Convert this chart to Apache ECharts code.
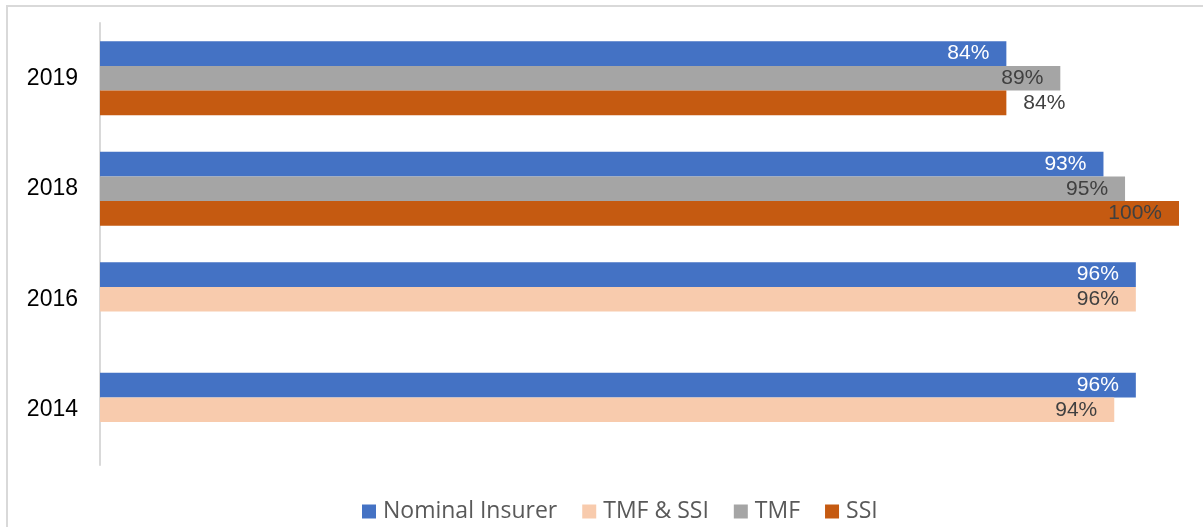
<!DOCTYPE html>
<html>
<head>
<meta charset="utf-8">
<script src="https://cdn.jsdelivr.net/npm/echarts@6/dist/echarts.min.js"></script>
<style>
  html, body { margin: 0; padding: 0; background: #ffffff; }
  #chart { width: 1203px; height: 527px; }
</style>
</head>
<body>
<div id="chart"></div>
<script>
// Survey years, top to bottom
const years = ['2019', '2018', '2016', '2014'];

// Percentages per scheme, aligned with `years` (null = not surveyed)
const nominalInsurer = [84, 93, 96, 96];
const tmfAndSsi      = [null, null, 96, 94];
const tmf            = [89, 95, null, null];
const ssi            = [84, 100, null, null];

const seriesNames  = ['Nominal Insurer', 'TMF & SSI', 'TMF', 'SSI'];
const seriesColors = ['#4472C4', '#F8CBAD', '#A5A5A5', '#C55A11'];

// SSI labels that sit outside the bar end (short bars)
const ssiOutside = ['2019'];

const labelFont = 'Liberation Sans, Arial, sans-serif';

function insideLabel(color) {
  return {
    show: true,
    position: 'insideRight',
    distance: 17,
    color: color,
    fontFamily: labelFont,
    fontSize: 21,
    formatter: p => p.value + '%'
  };
}

const ssiData = ssi.map((v, i) =>
  ssiOutside.includes(years[i])
    ? { value: v, label: { position: 'right', distance: 17 } }
    : v
);

const chart = echarts.init(document.getElementById('chart'), null, { renderer: 'canvas' });

chart.setOption({
  animation: false,
  backgroundColor: '#ffffff',
  graphic: [{
    type: 'rect',
    shape: { x: 7, y: 6, width: 1220, height: 560 },
    style: { fill: 'none', stroke: '#d9d9d9', lineWidth: 2 },
    silent: true,
    z: -10
  }],
  grid: { left: 100, right: 24, top: 23, bottom: 62, containLabel: false },
  xAxis: {
    type: 'value',
    min: 0,
    max: 100,
    show: false
  },
  yAxis: {
    type: 'category',
    data: years,
    inverse: true,
    axisLine: { show: true, lineStyle: { color: '#d9d9d9', width: 2 } },
    axisTick: { show: false },
    axisLabel: {
      margin: 22,
      color: '#000000',
      fontFamily: labelFont,
      fontSize: 23
    },
    splitLine: { show: false }
  },
  legend: {
    left: 357,
    top: 495,
    itemWidth: 14,
    itemHeight: 14,
    itemGap: 25,
    icon: 'rect',
    textStyle: {
      color: '#595959',
      fontFamily: 'Open Sans, sans-serif',
      fontSize: 23,
      padding: [0, 0, 0, 2]
    },
    data: seriesNames
  },
  series: [
    {
      name: seriesNames[0], type: 'bar', stack: 'slot1',
      data: nominalInsurer,
      itemStyle: { color: seriesColors[0] },
      barCategoryGap: '33%', barGap: '0%',
      label: insideLabel('#ffffff')
    },
    {
      name: seriesNames[1], type: 'bar', stack: 'slot2',
      data: tmfAndSsi,
      itemStyle: { color: seriesColors[1] },
      barCategoryGap: '33%', barGap: '0%',
      label: insideLabel('#404040')
    },
    {
      name: seriesNames[2], type: 'bar', stack: 'slot2',
      data: tmf,
      itemStyle: { color: seriesColors[2] },
      barCategoryGap: '33%', barGap: '0%',
      label: insideLabel('#404040')
    },
    {
      name: seriesNames[3], type: 'bar', stack: 'slot3',
      data: ssiData,
      itemStyle: { color: seriesColors[3] },
      barCategoryGap: '33%', barGap: '0%',
      label: insideLabel('#404040')
    }
  ]
});
</script>
</body>
</html>
